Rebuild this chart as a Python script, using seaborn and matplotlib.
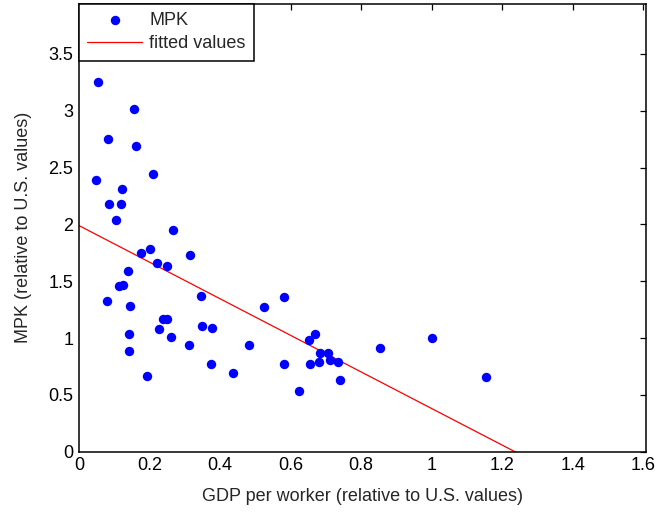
import numpy as np
import pandas as pd
import matplotlib
matplotlib.use("Agg")
import matplotlib.pyplot as plt
import seaborn as sns

# GDP per worker and MPK, both relative to U.S. values
gdp_per_worker = [
    0.053, 0.155, 0.083, 0.161, 0.209, 0.047, 0.122, 0.085, 0.120, 0.104,
    0.267, 0.175, 0.201, 0.315, 0.221, 0.249, 0.139, 0.113, 0.126, 0.079,
    0.144, 0.347, 0.237, 0.251, 0.226, 0.350, 0.377, 0.143, 0.260, 0.313,
    0.141, 0.374, 0.193, 0.438, 0.481, 0.525, 0.582, 0.582, 0.624, 0.652,
    0.668, 0.654, 0.680, 0.683, 0.707, 0.711, 0.734, 0.739, 0.853, 1.000,
    1.155,
]
mpk = [
    3.25, 3.02, 2.75, 2.69, 2.44, 2.39, 2.31, 2.18, 2.18, 2.04,
    1.95, 1.75, 1.78, 1.73, 1.66, 1.63, 1.59, 1.46, 1.47, 1.33,
    1.28, 1.37, 1.17, 1.17, 1.08, 1.11, 1.09, 1.04, 1.01, 0.94,
    0.89, 0.77, 0.67, 0.69, 0.94, 1.27, 1.36, 0.77, 0.53, 0.98,
    1.04, 0.77, 0.79, 0.87, 0.87, 0.81, 0.79, 0.63, 0.91, 1.00,
    0.66,
]

# Linear fit: MPK = intercept + slope * GDP per worker
fit_intercept = 1.99
fit_slope = -1.61

x_ticks = [0, 0.2, 0.4, 0.6, 0.8, 1.0, 1.2, 1.4, 1.6]
x_tick_labels = ["0", "0.2", "0.4", "0.6", "0.8", "1", "1.2", "1.4", "1.6"]
y_ticks = [0, 0.5, 1.0, 1.5, 2.0, 2.5, 3.0, 3.5]
y_tick_labels = ["0", "0.5", "1", "1.5", "2", "2.5", "3", "3.5"]

FS = 13

sns.set_style("white")
plt.rcParams["font.family"] = ["Liberation Sans", "DejaVu Sans"]
plt.rcParams["font.size"] = FS

df = pd.DataFrame({"gdp": gdp_per_worker, "mpk": mpk})
fit_x = np.array([0.0, 1.6])
fit_df = pd.DataFrame({"gdp": fit_x, "fit": fit_intercept + fit_slope * fit_x})

fig = plt.figure(figsize=(6.56, 5.13), dpi=100)
ax = fig.add_axes([0.1204, 0.1195, 0.8639, 0.8727])

sns.scatterplot(data=df, x="gdp", y="mpk", ax=ax, color="#0000ff",
                s=46, linewidth=0, label="MPK", zorder=3)
sns.lineplot(data=fit_df, x="gdp", y="fit", ax=ax, color="#ff0000",
             linewidth=0.9, label="fitted values", zorder=2)

ax.set_xlim(0, 1.607)
ax.set_ylim(0, 3.94)
ax.set_xticks(x_ticks)
ax.set_xticklabels(x_tick_labels)
ax.set_yticks(y_ticks)
ax.set_yticklabels(y_tick_labels)
ax.tick_params(direction="in", length=4, width=0.9, top=True, right=True,
               labelsize=FS, colors="black", pad=4)
for side in ax.spines.values():
    side.set_visible(True)
    side.set_color("black")
    side.set_linewidth(1.1)

ax.set_xlabel("GDP per worker (relative to U.S. values)", fontsize=FS, labelpad=10)
ax.set_ylabel("MPK (relative to U.S. values)", fontsize=FS, labelpad=12)

leg = ax.legend(loc="upper left", borderaxespad=0, frameon=True, fancybox=False,
                edgecolor="black", framealpha=1, fontsize=FS,
                handlelength=3.05, handletextpad=0.4, borderpad=0.45,
                labelspacing=0.35, scatterpoints=1, markerscale=1.0)
leg.get_frame().set_linewidth(1.1)

fig.savefig("out.png", dpi=100, facecolor="white")
